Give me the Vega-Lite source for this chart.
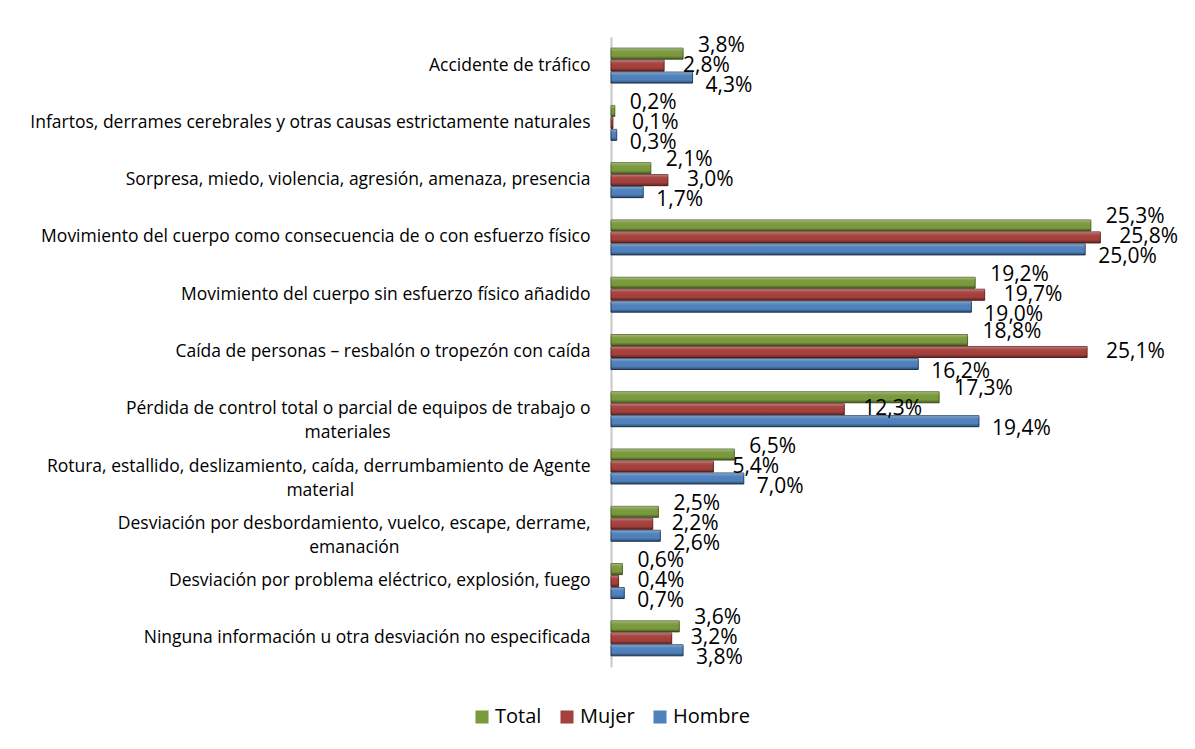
{
  "$schema": "https://vega.github.io/schema/vega-lite/v6.json",
  "autosize": {"type": "none"},
  "width": 569,
  "height": 630,
  "padding": {"left": 611, "top": 37, "right": 15, "bottom": 82},
  "background": "white",
  "config": {
    "view": {"stroke": null},
    "locale": {"number": {"decimal": ",", "thousands": ".", "grouping": [3], "currency": ["", " €"]}},
    "font": "Open Sans"
  },
  "data": {
    "values": [
      {"causa": "Accidente de tráfico", "serie": "Total", "valor": 0.038},
      {"causa": "Accidente de tráfico", "serie": "Mujer", "valor": 0.028},
      {"causa": "Accidente de tráfico", "serie": "Hombre", "valor": 0.043},
      {"causa": "Infartos, derrames cerebrales y otras causas estrictamente naturales", "serie": "Total", "valor": 0.002},
      {"causa": "Infartos, derrames cerebrales y otras causas estrictamente naturales", "serie": "Mujer", "valor": 0.001},
      {"causa": "Infartos, derrames cerebrales y otras causas estrictamente naturales", "serie": "Hombre", "valor": 0.003},
      {"causa": "Sorpresa, miedo, violencia, agresión, amenaza, presencia", "serie": "Total", "valor": 0.021},
      {"causa": "Sorpresa, miedo, violencia, agresión, amenaza, presencia", "serie": "Mujer", "valor": 0.030},
      {"causa": "Sorpresa, miedo, violencia, agresión, amenaza, presencia", "serie": "Hombre", "valor": 0.017},
      {"causa": "Movimiento del cuerpo como consecuencia de o con esfuerzo físico", "serie": "Total", "valor": 0.253},
      {"causa": "Movimiento del cuerpo como consecuencia de o con esfuerzo físico", "serie": "Mujer", "valor": 0.258},
      {"causa": "Movimiento del cuerpo como consecuencia de o con esfuerzo físico", "serie": "Hombre", "valor": 0.250},
      {"causa": "Movimiento del cuerpo sin esfuerzo físico añadido", "serie": "Total", "valor": 0.192},
      {"causa": "Movimiento del cuerpo sin esfuerzo físico añadido", "serie": "Mujer", "valor": 0.197},
      {"causa": "Movimiento del cuerpo sin esfuerzo físico añadido", "serie": "Hombre", "valor": 0.190},
      {"causa": "Caída de personas – resbalón o tropezón con caída", "serie": "Total", "valor": 0.188},
      {"causa": "Caída de personas – resbalón o tropezón con caída", "serie": "Mujer", "valor": 0.251},
      {"causa": "Caída de personas – resbalón o tropezón con caída", "serie": "Hombre", "valor": 0.162},
      {"causa": "Pérdida de control total o parcial de equipos de trabajo o|materiales", "serie": "Total", "valor": 0.173},
      {"causa": "Pérdida de control total o parcial de equipos de trabajo o|materiales", "serie": "Mujer", "valor": 0.123},
      {"causa": "Pérdida de control total o parcial de equipos de trabajo o|materiales", "serie": "Hombre", "valor": 0.194},
      {"causa": "Rotura, estallido, deslizamiento, caída, derrumbamiento de Agente|material", "serie": "Total", "valor": 0.065},
      {"causa": "Rotura, estallido, deslizamiento, caída, derrumbamiento de Agente|material", "serie": "Mujer", "valor": 0.054},
      {"causa": "Rotura, estallido, deslizamiento, caída, derrumbamiento de Agente|material", "serie": "Hombre", "valor": 0.070},
      {"causa": "Desviación por desbordamiento, vuelco, escape, derrame,|emanación", "serie": "Total", "valor": 0.025},
      {"causa": "Desviación por desbordamiento, vuelco, escape, derrame,|emanación", "serie": "Mujer", "valor": 0.022},
      {"causa": "Desviación por desbordamiento, vuelco, escape, derrame,|emanación", "serie": "Hombre", "valor": 0.026},
      {"causa": "Desviación por problema eléctrico, explosión, fuego", "serie": "Total", "valor": 0.006},
      {"causa": "Desviación por problema eléctrico, explosión, fuego", "serie": "Mujer", "valor": 0.004},
      {"causa": "Desviación por problema eléctrico, explosión, fuego", "serie": "Hombre", "valor": 0.007},
      {"causa": "Ninguna información u otra desviación no especificada", "serie": "Total", "valor": 0.036},
      {"causa": "Ninguna información u otra desviación no especificada", "serie": "Mujer", "valor": 0.032},
      {"causa": "Ninguna información u otra desviación no especificada", "serie": "Hombre", "valor": 0.038}
    ]
  },
  "encoding": {
    "y": {
      "field": "causa", "type": "nominal", "sort": null, "title": null,
      "scale": {"paddingInner": 0.39, "paddingOuter": 0.195},
      "axis": {
        "ticks": false, "grid": false, "labelPadding": 21,
        "labelFontSize": 17.5, "labelColor": "#000000", "labelFont": "Open Sans",
        "labelLimit": 700, "labelLineHeight": 24,
        "domainColor": "#c8c8c8", "domainWidth": 2,
        "labelExpr": "indexof(datum.label, '|') >= 0 ? [split(datum.label, '|')[0], pad(split(datum.label, '|')[1], length(split(datum.label, '|')[1]) + round(0.92 * (length(split(datum.label, '|')[0]) - length(split(datum.label, '|')[1]))), '\u00a0') + '\u200b'] : datum.label"
      }
    },
    "yOffset": {
      "field": "serie", "type": "nominal", "sort": ["Total", "Mujer", "Hombre"],
      "scale": {"paddingInner": 0.08}
    },
    "x": {
      "field": "valor", "type": "quantitative",
      "scale": {"domain": [0, 0.30], "nice": false, "zero": true},
      "axis": null
    }
  },
  "layer": [
    {
      "mark": {"type": "bar", "strokeWidth": 1},
      "encoding": {
        "color": {
          "field": "serie", "type": "nominal",
          "scale": {"domain": ["Total", "Mujer", "Hombre"], "range": ["#7a9a3c", "#a5403c", "#4f81bd"]},
          "legend": {
            "title": null, "orient": "none", "direction": "horizontal",
            "legendX": -139, "legendY": 670,
            "symbolType": "square", "symbolSize": 170, "symbolStrokeWidth": 0,
            "labelFontSize": 20, "labelFont": "Open Sans", "labelColor": "#000000",
            "labelOffset": 3, "columnPadding": 15
          }
        },
        "stroke": {
          "field": "serie", "type": "nominal",
          "scale": {"domain": ["Total", "Mujer", "Hombre"], "range": ["#4f6228", "#632523", "#254061"]},
          "legend": null
        }
      }
    },
    {
      "mark": {
        "type": "bar", "strokeWidth": 0,
        "fill": {
          "gradient": "linear", "x1": 0, "y1": 0, "x2": 0, "y2": 1,
          "stops": [
            {"offset": 0, "color": "rgba(255,255,255,0.35)"},
            {"offset": 0.25, "color": "rgba(255,255,255,0.05)"},
            {"offset": 0.7, "color": "rgba(0,0,0,0)"},
            {"offset": 1, "color": "rgba(0,0,0,0.4)"}
          ]
        }
      },
      "encoding": {}
    },
    {
      "mark": {
        "type": "text", "align": "left", "baseline": "middle",
        "fontSize": 21, "font": "Open Sans", "color": "#000000",
        "dx": {"expr": "datum.serie == 'Total' ? 15 : datum.serie == 'Mujer' ? 19 : 13"},
        "dy": {"expr": "datum.serie == 'Total' ? -8 : datum.serie == 'Hombre' ? 8 : 0"}
      },
      "encoding": {
        "text": {"field": "valor", "type": "quantitative", "format": ".1%"}
      }
    }
  ]
}
